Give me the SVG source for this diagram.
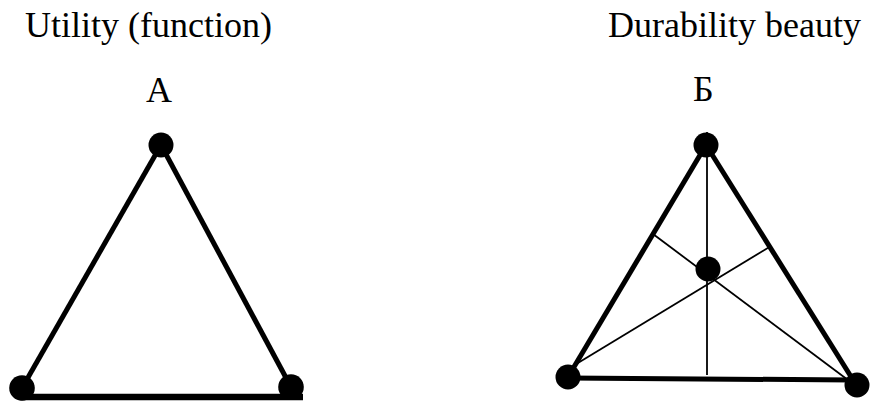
<svg xmlns="http://www.w3.org/2000/svg" width="870" height="401" viewBox="0 0 870 401">
<style>
text{font-family:"Liberation Serif","Times New Roman",serif;font-size:36px;fill:#000}
.thick{stroke:#000;stroke-width:5;fill:none}
.thin{stroke:#000;stroke-width:1.8;fill:none}
.dot{fill:#000}
</style>
<rect width="870" height="401" fill="#fff"/>
<g id="labels">
<text x="25" y="37">Utility (function)</text>
<text x="608" y="37">Durability beauty</text>
<text x="146" y="102">A</text>
<text x="693" y="101">Б</text>
</g>
<g id="connectors">
<line class="thick" x1="161" y1="145" x2="22" y2="388"/>
<line class="thick" x1="161" y1="145" x2="291" y2="387"/>
<line class="thick" x1="20" y1="397" x2="303" y2="397" style="stroke-width:6.5"/>
<line class="thick" x1="706" y1="145" x2="568" y2="377"/>
<line class="thick" x1="706" y1="145" x2="855" y2="383"/>
<line class="thick" x1="568" y1="378" x2="852" y2="380"/>
<line class="thin" x1="707" y1="132" x2="707" y2="375"/>
<line class="thin" x1="653" y1="234" x2="852" y2="383"/>
<line class="thin" x1="771" y1="246" x2="568" y2="369"/>
</g>
<g id="nodeA-top"><circle class="dot" cx="161" cy="145" r="12.5"/></g>
<g id="nodeA-left"><circle class="dot" cx="22" cy="388" r="12.8"/></g>
<g id="nodeA-right"><circle class="dot" cx="291" cy="387" r="12.8"/></g>
<g id="nodeB-top"><circle class="dot" cx="706" cy="145" r="12.5"/></g>
<g id="nodeB-left"><circle class="dot" cx="568" cy="377" r="12.5"/></g>
<g id="nodeB-right"><circle class="dot" cx="857" cy="385" r="12.5"/></g>
<g id="nodeB-center"><circle class="dot" cx="708" cy="269" r="12.5"/></g>
</svg>
